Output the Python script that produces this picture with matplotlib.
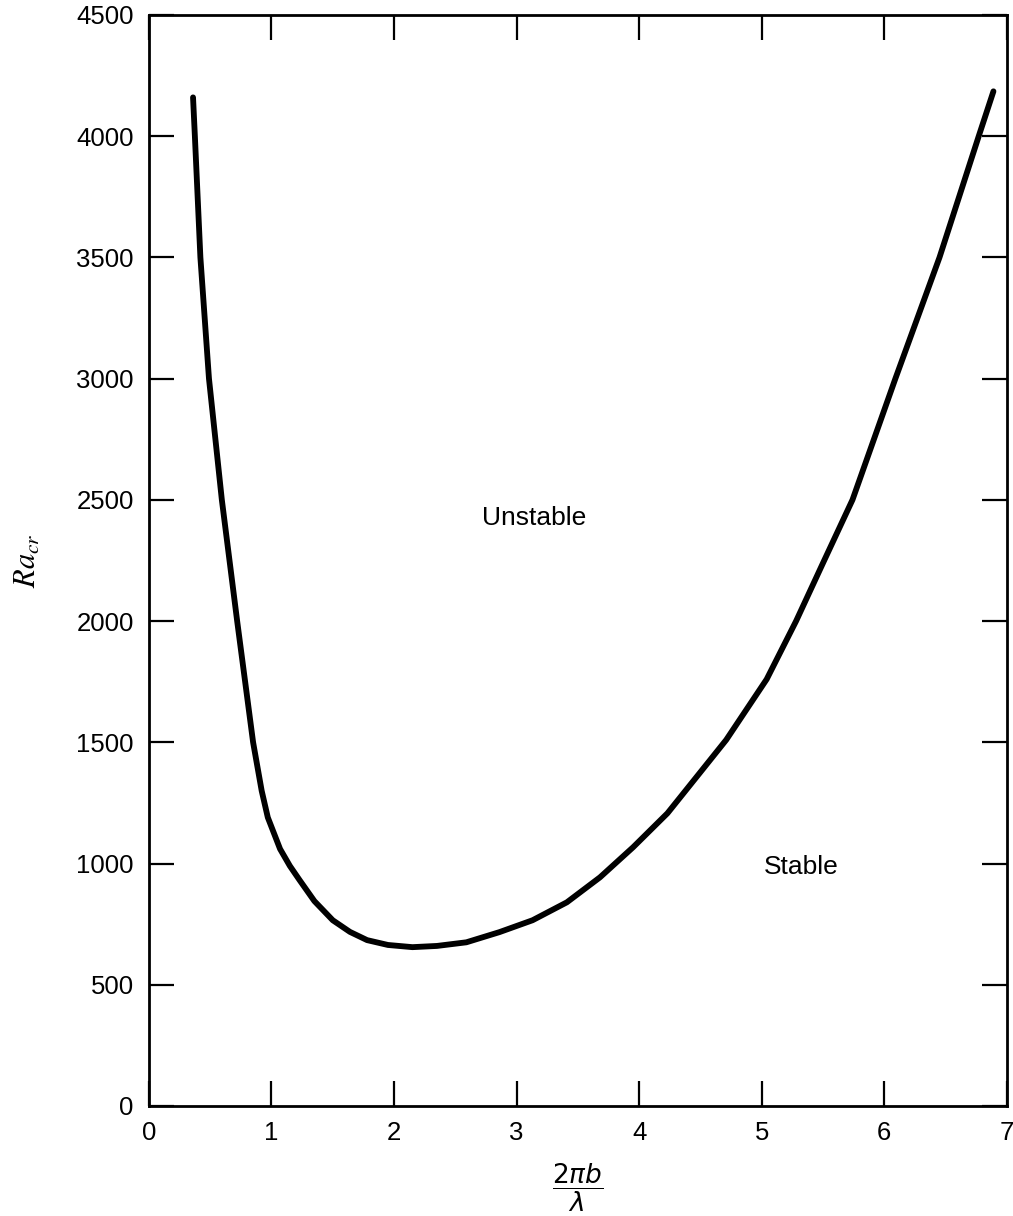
import matplotlib
matplotlib.use("Agg")
import matplotlib.pyplot as plt

# critical Rayleigh number vs wavenumber
wave_num = [0.36, 0.375, 0.42, 0.49, 0.595, 0.72, 0.85, 0.92, 0.97, 1.07,
            1.15, 1.23, 1.35, 1.50, 1.64, 1.78, 1.95, 2.15, 2.35, 2.59,
            2.86, 3.13, 3.41, 3.68, 3.95, 4.23, 4.49, 4.71, 5.04, 5.28,
            5.50, 5.74, 6.09, 6.45, 6.77, 6.89]
ra_cr = [4160, 4000, 3500, 3000, 2500, 2000, 1500, 1300, 1190, 1060,
         990, 931, 845, 766, 718, 684, 664, 655, 660, 675,
         717, 766, 840, 943, 1067, 1207, 1371, 1510, 1760, 2000,
         2240, 2500, 3000, 3500, 4000, 4185]

x_ticks = [0, 1, 2, 3, 4, 5, 6, 7]
y_ticks = [0, 500, 1000, 1500, 2000, 2500, 3000, 3500, 4000, 4500]

plt.rcParams["font.family"] = ["Liberation Sans", "DejaVu Sans"]

fig = plt.figure(figsize=(10.13, 12.16), dpi=100)
ax = fig.add_axes([0.147, 0.0905, 0.847, 0.8972])

ax.plot(wave_num, ra_cr, color="black", lw=4.2, solid_capstyle="round",
        solid_joinstyle="round")

ax.set_xlim(0, 7)
ax.set_ylim(0, 4500)
ax.set_xticks(x_ticks)
ax.set_yticks(y_ticks)
ax.tick_params(axis="both", direction="in", length=18, width=1.6,
               top=True, right=True, labelsize=18.5, pad=11)
for sp in ax.spines.values():
    sp.set_linewidth(2.0)

ax.text(3.14, 2426, "Unstable", fontsize=19, ha="center", va="center")
ax.text(5.32, 984, "Stable", fontsize=19, ha="center", va="center")

ax.set_xlabel(r"$\dfrac{2\pi b}{\lambda}$", fontsize=19,
              math_fontfamily="dejavusans", labelpad=12)
ax.set_ylabel(r"$Ra_{cr}$", fontsize=22, math_fontfamily="stix")
ax.yaxis.set_label_coords(-0.124, 0.5)

fig.savefig("out.png", dpi=100)
